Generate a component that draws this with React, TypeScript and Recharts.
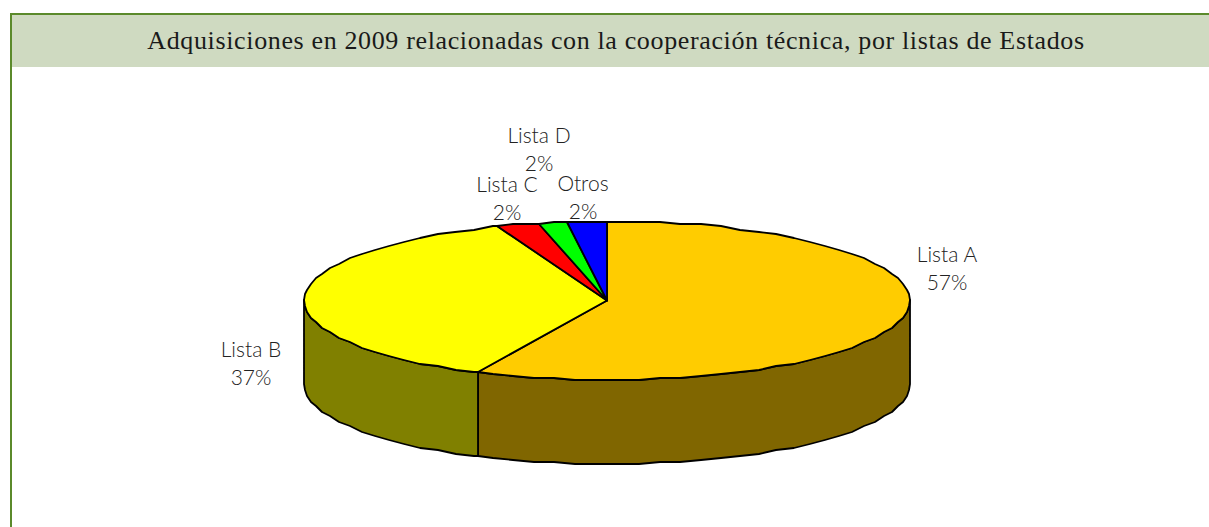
import { PieChart, Pie, Cell } from 'recharts'

const CATEGORIES = ['Lista A', 'Lista B', 'Lista C', 'Lista D', 'Otros']
const VALUES = [57, 37.1, 2.3, 1.5, 2.1]
const COLORS = ['#FFCC00', '#FFFF00', '#FF0000', '#00FF00', '#0000FF']
const WALL_COLORS = ['#806600', '#808000', '#800000', '#008000', '#000080']

const TITLE = 'Adquisiciones en 2009 relacionadas con la cooperación técnica, por listas de Estados'

const DATA = CATEGORIES.map((name, i) => ({ name, value: VALUES[i] }))

// label anchors, placed by hand in the original
const LABEL_SPOTS = [
  { x: 947, y: 262 },
  { x: 251, y: 357 },
  { x: 507, y: 192 },
  { x: 539, y: 143 },
  { x: 583, y: 191 },
]

const TILT = 79.5 / 303
const DEPTH = 84
const RAD = Math.PI / 180
const FACET = 4 // degrees, the original outline is visibly faceted

function rim(cx: number, cy: number, r: number, deg: number, drop: number) {
  const x = Math.round(cx + r * Math.cos(deg * RAD))
  const y = Math.round((cy - r * TILT * Math.sin(deg * RAD)) / 2) * 2 + drop
  return `${x} ${y}`
}

function arcPoints(cx: number, cy: number, r: number, from: number, to: number, drop = 0) {
  const dir = to > from ? 1 : -1
  const pts = [rim(cx, cy, r, from, drop)]
  let deg = dir > 0 ? Math.floor(from / FACET + 1) * FACET : Math.ceil(from / FACET - 1) * FACET
  while ((to - deg) * dir > 0) {
    pts.push(rim(cx, cy, r, deg, drop))
    deg += dir * FACET
  }
  pts.push(rim(cx, cy, r, to, drop))
  return pts
}

function TiltedSlice(props: any) {
  const { cx, cy, outerRadius: r, startAngle, endAngle, index } = props
  const top = `M${cx} ${cy} L${arcPoints(cx, cy, r, startAngle, endAngle).join(' L')} Z`

  // the wall only shows on the front half (angles -180 to 0)
  const from = Math.min(startAngle, 0)
  const to = Math.max(endAngle, -180)
  let wall = null
  if (from > to) {
    const upper = arcPoints(cx, cy, r, from, to)
    const lower = arcPoints(cx, cy, r, to, from, DEPTH)
    wall = (
      <path
        d={`M${upper.join(' L')} L${lower.join(' L')} Z`}
        fill={WALL_COLORS[index]}
        stroke="#000"
        strokeWidth={1.8}
        strokeLinejoin="round"
      />
    )
  }
  return (
    <g>
      {wall}
      <path d={top} fill={COLORS[index]} stroke="#000" strokeWidth={1.8} strokeLinejoin="round" />
    </g>
  )
}

function SliceLabel(props: any) {
  const { index, value } = props
  const spot = LABEL_SPOTS[index]
  return (
    <text
      x={spot.x}
      y={spot.y}
      textAnchor="middle"
      fontFamily="Lato, sans-serif"
      fontWeight={300}
      fontSize={21}
      fill="#222"
    >
      {CATEGORIES[index]}
      <tspan x={spot.x} dy={28}>
        {Math.round(value)}%
      </tspan>
    </text>
  )
}

export default function App() {
  return (
    <div style={{ position: 'absolute', left: 0, top: 0, width: 1209, height: 527, background: '#fff', overflow: 'hidden' }}>
      <div style={{ position: 'absolute', left: 10, top: 13, width: 2, height: 514, background: '#5B8A2B' }} />
      <div style={{ position: 'absolute', left: 10, top: 13, width: 1199, height: 2, background: '#5B8A2B' }} />
      <div
        style={{
          position: 'absolute',
          left: 12,
          top: 15,
          width: 1186,
          paddingLeft: 11,
          height: 52,
          background: '#CFDAC1',
          color: '#1a1a1a',
          fontFamily: '"Liberation Serif", serif',
          fontSize: 26,
          letterSpacing: 0.64,
          lineHeight: '52px',
          textAlign: 'center',
          whiteSpace: 'nowrap',
        }}
      >
        {TITLE}
      </div>
      <div style={{ position: 'absolute', left: 0, top: 0 }}>
        <PieChart width={1209} height={527} margin={{ top: 0, right: 0, bottom: 0, left: 0 }}>
          <Pie
            data={DATA}
            dataKey="value"
            nameKey="name"
            cx={607}
            cy={300.5}
            outerRadius={303}
            startAngle={90}
            endAngle={-270}
            stroke="none"
            shape={TiltedSlice}
            label={SliceLabel}
            labelLine={false}
            isAnimationActive={false}
          >
            {DATA.map((d, i) => (
              <Cell key={d.name} fill={COLORS[i]} />
            ))}
          </Pie>
        </PieChart>
      </div>
    </div>
  )
}
